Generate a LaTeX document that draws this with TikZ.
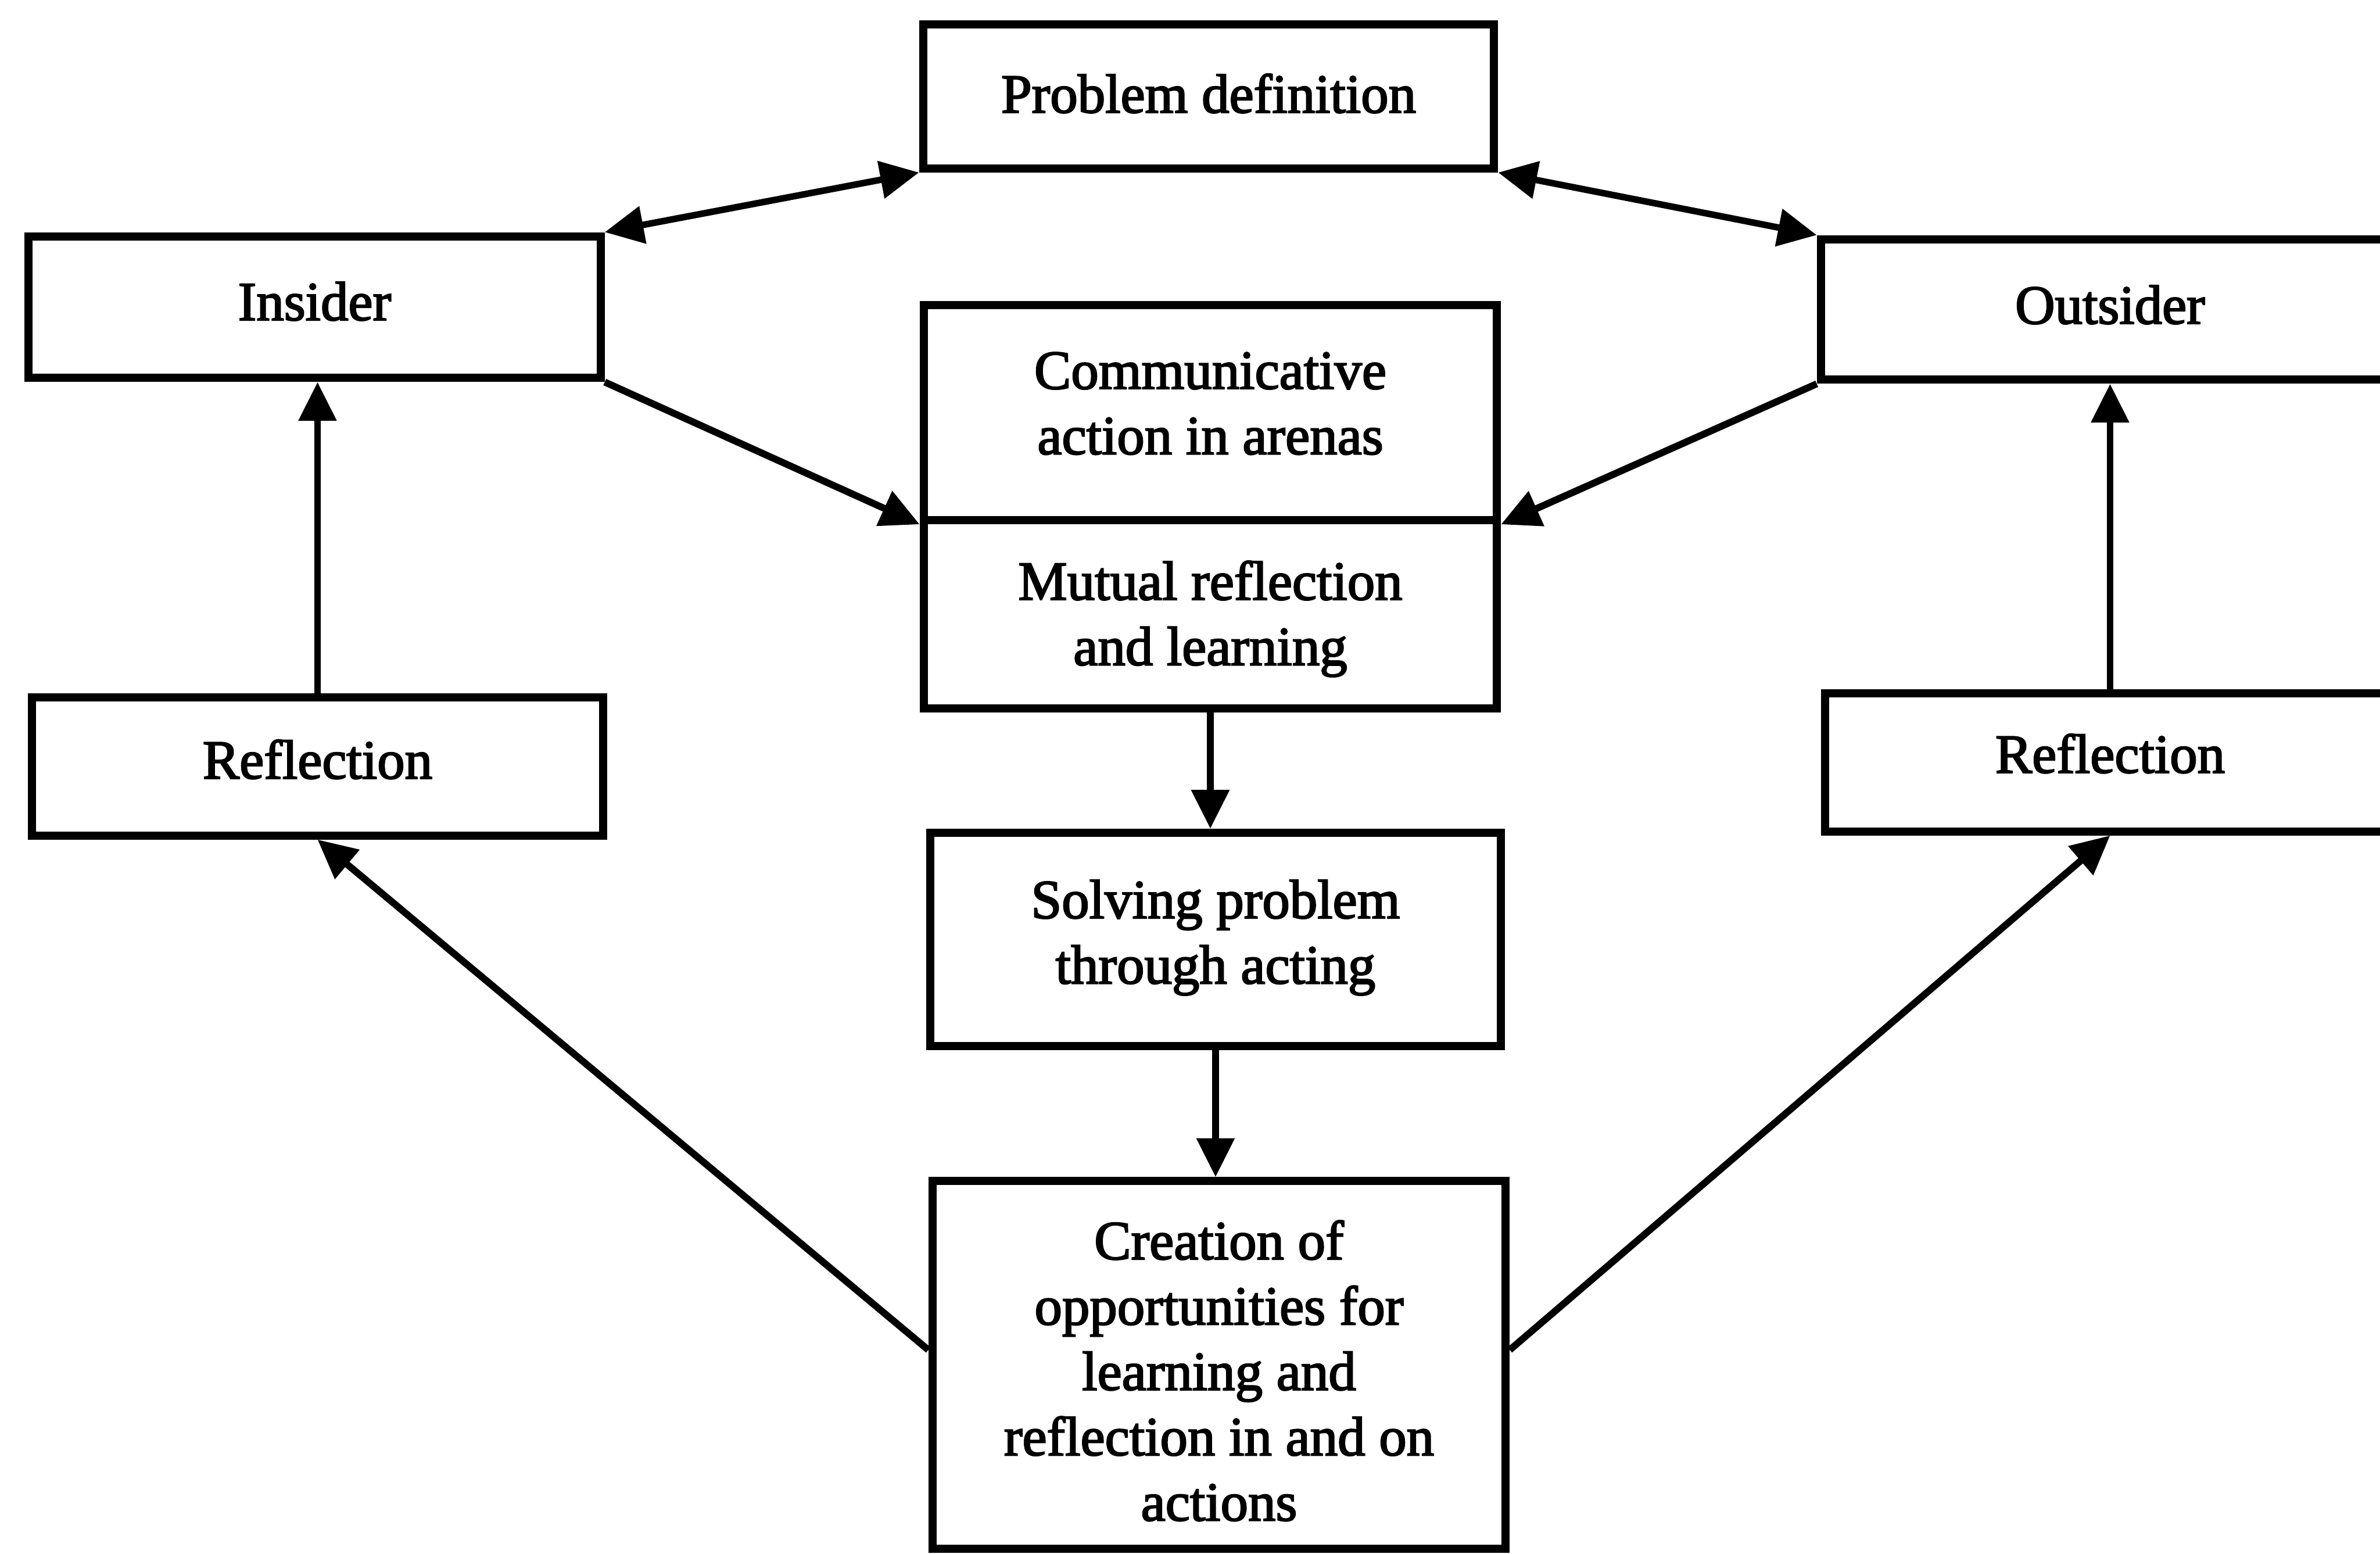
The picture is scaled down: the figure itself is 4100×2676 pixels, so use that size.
\documentclass[tikz,border=0pt]{standalone}
\usepackage{fontspec}
\newfontfamily\boxfont[FakeBold=2.5]{Liberation Serif}
\usetikzlibrary{arrows.meta,calc}
\begin{document}
\begin{tikzpicture}[x=0.01cm,y=-0.01cm,
  box/.style={draw, line width=4pt, inner sep=0pt},
  lbl/.style={inner sep=0pt, align=center,
    font=\boxfont\fontsize{27}{32}\selectfont},
  link/.style={line width=3.4pt, -{Triangle[length=19pt,width=18pt]}},
  twoway/.style={line width=3.2pt, {Triangle[length=19pt,width=18pt]}-{Triangle[length=19pt,width=18pt]}}]
\useasboundingbox (0,0) rectangle (4100,2676);
\clip (0,0) rectangle (4100,2676);

% boxes
\node[box, minimum width=9.83cm, minimum height=2.48cm] (pd) at (2082,166) {};
\node[box, minimum width=9.85cm, minimum height=2.44cm] (ins) at (542,529) {};
\node[box, minimum width=9.96cm, minimum height=2.42cm] (out) at (3635,533) {};
\node[box, minimum width=9.84cm, minimum height=2.38cm] (refl) at (547,1320) {};
\node[box, minimum width=9.82cm, minimum height=2.38cm] (refr) at (3635,1313) {};
\node[box, minimum width=9.87cm, minimum height=3.70cm] (comm) at (2085,711) {};
\node[box, minimum width=9.87cm, minimum height=3.24cm] (mut) at (2085,1058) {};
\node[box, minimum width=9.83cm, minimum height=3.67cm] (solve) at (2094,1618) {};
\node[box, minimum width=9.87cm, minimum height=6.33cm] (create) at (2100,2351) {};

% box texts
\node[lbl] (pd-t) at (2082,161) {Problem definition};
\node[lbl] (ins-t) at (542,519) {Insider};
\node[lbl] (out-t) at (3635,525) {Outsider};
\node[lbl] (refl-t) at (547,1308) {Reflection};
\node[lbl] (refr-t) at (3635,1298) {Reflection};
\node[lbl] (comm-t) at (2085,695) {Communicative\\action in arenas};
\node[lbl] (mut-t) at (2085,1066) {Mutual reflection\\and learning};
\node[lbl] (solve-t) at (2094,1615) {Solving problem\\through acting};
\node[lbl] (create-t) at (2100,2361) {Creation of\\opportunities for\\learning and\\reflection in and on\\actions};

% connectors
\draw[twoway] (ins.north east) -- (pd.south west);
\draw[twoway] (pd.south east) -- (out.north west);
\draw[link] (ins.south east) -- (comm.south west);
\draw[link] (out.south west) -- (comm.south east);
\draw[link] (mut.south) -- (mut.south |- solve.north);
\draw[link] (solve.south) -- (solve.south |- create.north);
\draw[link] (refl.north) -- (refl.north |- ins.south);
\draw[link] (refr.north) -- (refr.north |- out.south);
\draw[link] ($(create.north west)!0.46!(create.south west)$) -- (refl.south);
\draw[link] ($(create.north east)!0.46!(create.south east)$) -- (refr.south);
\end{tikzpicture}
\end{document}
